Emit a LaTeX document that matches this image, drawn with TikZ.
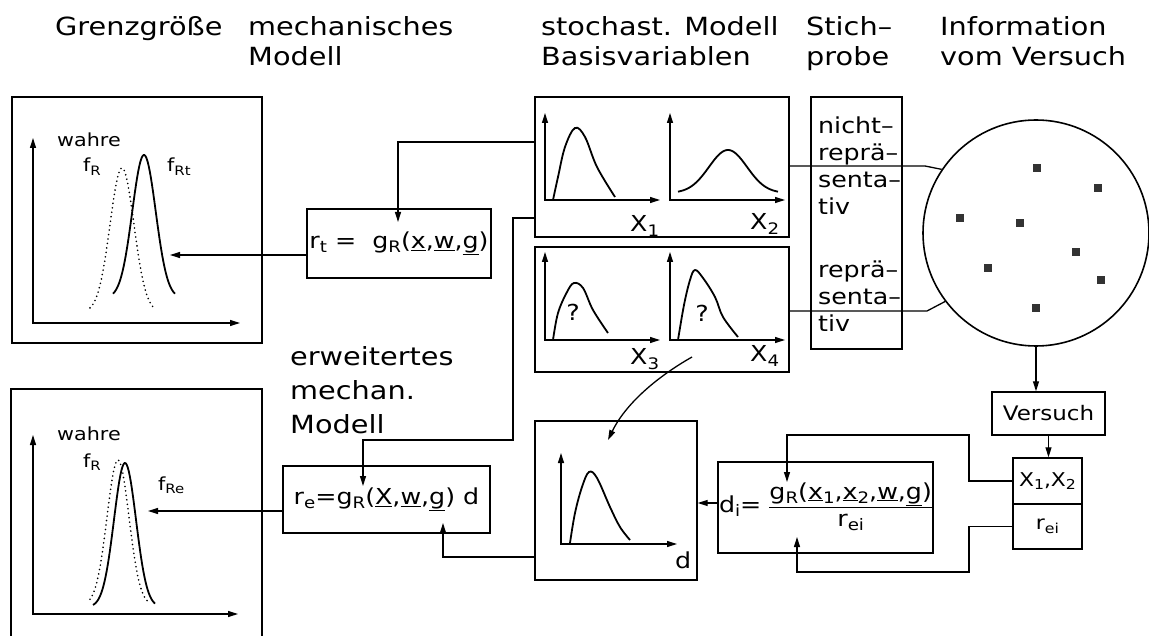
\documentclass[tikz,border=0pt]{standalone}
\usepackage{fontspec}
\setmainfont{DejaVu Sans}[FakeStretch=1.15]
\usepackage{graphicx}
\usetikzlibrary{arrows.meta}
\newcommand{\subtx}[1]{\raisebox{-0.35ex}{\scalebox{0.72}{#1}}}
\newcommand{\undl}[1]{\underline{#1}}

\begin{document}
\begin{tikzpicture}[x=1pt, y=-1pt,
    % Styles
    box/.style={draw, line width=1.4pt, inner sep=0pt, font=\fontsize{22}{26}\selectfont},
    head/.style={anchor=base west, align=left, inner sep=0pt, font=\fontsize{25}{30}\selectfont},
    lbl/.style={anchor=base west, inner sep=0pt, font=\fontsize{18}{22}\selectfont},
    axlbl/.style={anchor=base west, inner sep=0pt, font=\fontsize{22}{26}\selectfont},
    arrow/.style={-{Triangle[length=10pt, width=6pt]}, line width=1.3pt},
    axes/.style={{Triangle[length=10pt, width=6pt]}-{Triangle[length=10pt, width=6pt]}, line width=1.3pt},
    link/.style={line width=1.3pt},
    curve/.style={line width=1.8pt},
    dotcurve/.style={line width=1.8pt, dash pattern=on 0pt off 4.5pt, line cap=round}
]
\useasboundingbox (0,0) rectangle (1149,636);

% Column headings (anchor = baseline of the last line)
\node[head] (hgrenz) at (55,36) {Grenzgröße};
\node[head] (hmech) at (248,66) {mechanisches\\Modell};
\node[head] (hstoch) at (541,66) {stochast. Modell\\Basisvariablen};
\node[head] (hstich) at (806,66) {Stich–\\probe};
\node[head] (hinfo) at (940,66) {Information\\vom Versuch};
\node[head, font=\fontsize{25}{34}\selectfont] (herw) at (290,433) {erweitertes\\mechan.\\Modell};

% Grenzgroesse, top
\node[box, minimum width=250pt, minimum height=246pt] (gt) at (137,220) {};
\draw[axes] (33,138) |- (240,323);
\draw[dotcurve] plot[domain=90:154, samples=40] (\x, {312-144*exp(-((\x-122)^2)/288)});
\draw[curve] plot[domain=113:175, samples=60] (\x, {298-143*exp(-((\x-144)^2)/274)});
\node[lbl] (wt) at (57,147) {wahre};
\node[lbl] (frt1) at (83,172) {f\subtx{R}};
\node[lbl] (frt) at (167,172) {f\subtx{Rt}};

% Grenzgroesse, bottom
\node[box, minimum width=251pt, minimum height=311pt] (ge) at (136.5,544.5) {};
\draw[axes] (33,435) |- (238,614);
\draw[dotcurve] plot[domain=90:148, samples=40] (\x, {605-145*exp(-((\x-118)^2)/242)});
\draw[curve] plot[domain=93:155, samples=60] (\x, {607-144*exp(-((\x-125)^2)/242)});
\node[lbl] (we) at (57,440) {wahre};
\node[lbl] (fre1) at (83,467) {f\subtx{R}};
\node[lbl] (fre) at (158,490) {f\subtx{Re}};

% Mechanical models
\node[box, minimum width=184pt, minimum height=69pt] (rt) at (399,243.5) {r\subtx{t} = \ g\subtx{R}(\undl{x},\undl{w},\undl{g})};
\node[box, minimum width=207pt, minimum height=67pt] (re) at (386.5,499.5) {r\subtx{e}=g\subtx{R}(\undl{X},\undl{w},\undl{g})\ d};

% Basic variables
\node[box, minimum width=254pt, minimum height=140pt] (xa) at (662,167) {};
\draw[axes] (545,113) |- (660,200);
\draw[axes] (670,113) |- (785,200);
\draw[curve] plot[smooth, tension=0.6] coordinates {(553,200) (558,177) (565,147) (575,128) (585,137) (597,167) (615,197)};
\draw[curve] plot[domain=678:778, samples=60] (\x, {193-43*exp(-((\x-728)^2)/722)});
\node[axlbl] (lx1) at (630,232) {X\subtx{1}};
\node[axlbl] (lx2) at (750,230) {X\subtx{2}};

\node[box, minimum width=254pt, minimum height=125pt] (xb) at (662,309.5) {};
\draw[axes] (545,252) |- (660,340);
\draw[axes] (670,252) |- (785,340);
\draw[curve] plot[smooth, tension=0.6] coordinates {(553,340) (558,313) (567,292) (574,283) (583,288) (593,310) (608,333)};
\draw[curve] plot[smooth, tension=0.6] coordinates {(678,340) (684,305) (690,280) (695,270) (703,278) (715,297) (723,317) (738,337)};
\node[font=\fontsize{22}{26}\selectfont] (q3) at (573,312) {?};
\node[font=\fontsize{22}{26}\selectfont] (q4) at (702,313) {?};
\node[axlbl] (lx3) at (630,365) {X\subtx{3}};
\node[axlbl] (lx4) at (750,362) {X\subtx{4}};

% Sample
\node[box, minimum width=91pt, minimum height=252pt] (stich) at (856.5,223) {};
\node[head, font=\fontsize{22}{27}\selectfont] (snicht) at (818,215) {nicht–\\reprä–\\senta–\\tiv};
\node[head, font=\fontsize{22}{27}\selectfont] (srep) at (818,332) {reprä–\\senta–\\tiv};

% Test information
\node[draw, circle, line width=1.6pt, minimum size=226pt, inner sep=0pt] (circ) at (1036,233) {};
\foreach \sx/\sy in {1037/168, 1098/188, 960/218, 1020/223, 1076/252, 988/268, 1101/280, 1036/308}
  \fill[black!80] (\sx-4,\sy-4) rectangle (\sx+4,\sy+4);
\node[box, minimum width=113pt, minimum height=43pt, font=\fontsize{20}{24}\selectfont] (vers) at (1048.5,413.5) {Versuch};
\node[box, minimum width=69pt, minimum height=46pt, font=\fontsize{19}{23}\selectfont] (xr1) at (1047.5,481) {X\subtx{1},X\subtx{2}};
\node[box, minimum width=69pt, minimum height=45pt, font=\fontsize{19}{23}\selectfont] (xr2) at (1047.5,526.5) {r\subtx{ei}};

% Model uncertainty
\node[box, minimum width=215pt, minimum height=91pt] (di) at (825.5,507.5) {d\subtx{i}= \setlength{\arrayrulewidth}{1.3pt}\begin{tabular}{@{}c@{}}g\subtx{R}(\undl{x}\subtx{1},\undl{x}\subtx{2},\undl{w},\undl{g})\\\hline r\subtx{ei}\end{tabular}};
\node[box, minimum width=162pt, minimum height=159pt] (dbox) at (616,500.5) {};
\draw[axes] (561,453) |- (677,544);
\draw[curve] plot[smooth, tension=0.6] coordinates {(570,543) (575,513) (582,487) (589,472) (597,478) (610,507) (620,527) (630,540)};
\node[axlbl] (ld) at (675,568) {d};

% Bends and arrow ends
\coordinate (tipT) at (170,255);
\coordinate (tipE) at (148,511);
\coordinate (inRt) at (398,222);
\coordinate (inRe) at (363,486);
\coordinate (inReD) at (443,523);
\coordinate (ka) at (0,142);
\coordinate (kb) at (513,218);
\coordinate (kc) at (513,440);
\coordinate (kd) at (0,557);
\coordinate (kx) at (925,166);
\coordinate (ky) at (927,311);
\coordinate (ke) at (969,435);
\coordinate (kf) at (969,572);
\coordinate (kg) at (0,503);
\coordinate (inDn) at (787,482);
\coordinate (inDd) at (797,537);
\coordinate (cs) at (692,357);
\coordinate (ce) at (608,440);

% Connectors
\draw[arrow] (rt.west |- tipT) -- (tipT);
\draw[arrow] (xa.west |- ka) -| (inRt);
\draw[arrow] (xa.west |- kb) -- (kb) -- (kc) -| (inRe);
\draw[arrow] (re.west |- tipE) -- (tipE);
\draw[arrow] (dbox.west |- kd) -| (inReD);
\draw[arrow] (cs) .. controls (655,378) and (625,405) .. (ce);
\draw[link] (xa.east |- kx) -- (kx) -- (circ.146);
\draw[link] (xb.east |- ky) -- (ky) -- (circ.217);
\draw[arrow] (circ.south) -- (circ.south |- vers.north);
\draw[arrow] (vers.south) -- (vers.south |- xr1.north);
\draw[arrow] (xr1.west) -| (ke) -| (inDn);
\draw[arrow] (xr2.west) -| (kf) -| (inDd);
\draw[arrow] (di.west |- kg) -- (dbox.east |- kg);

\end{tikzpicture}
\end{document}
